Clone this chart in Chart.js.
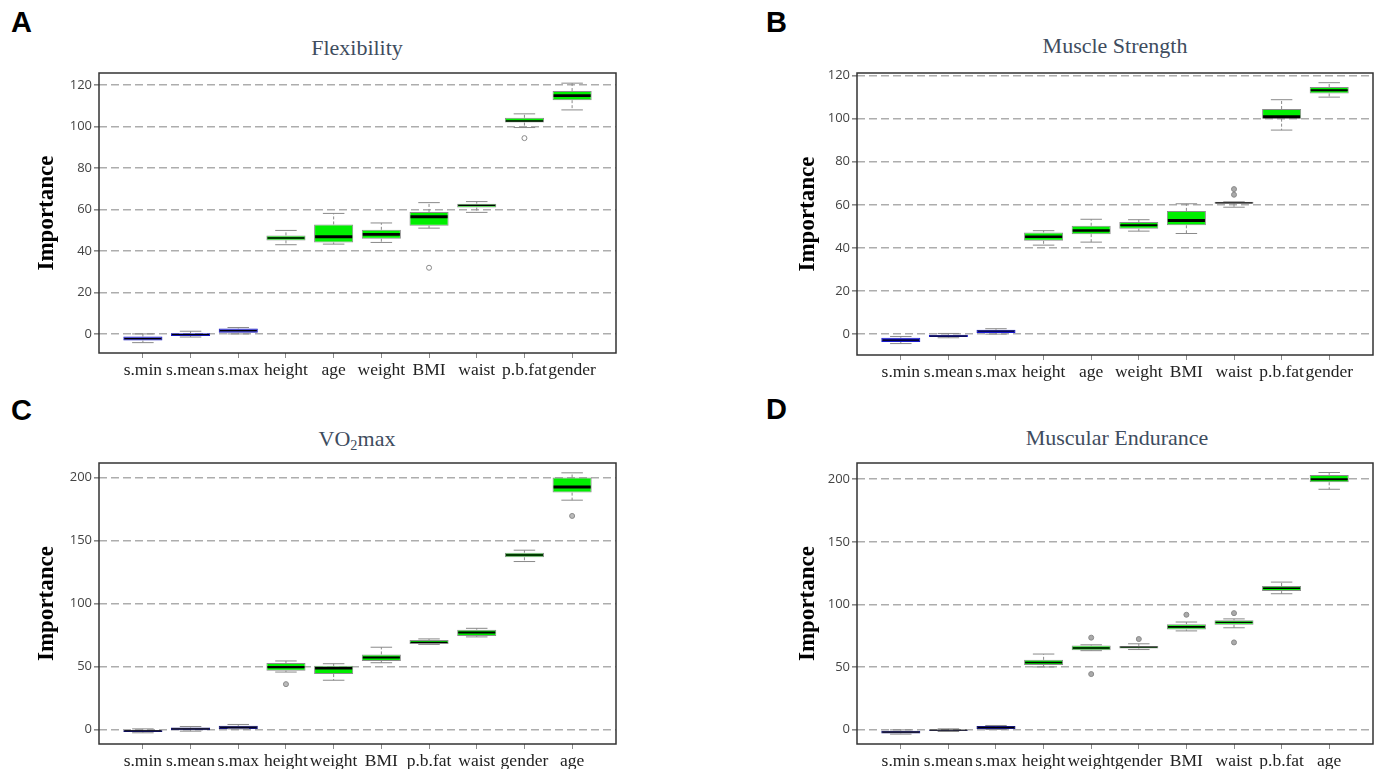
<!DOCTYPE html>
<html>
<head>
<meta charset="utf-8">
<script src="https://cdn.jsdelivr.net/npm/chart.js@4.4.1/dist/chart.umd.min.js"></script>
<style>
  body { margin: 0; background: #fff; width: 1384px; height: 769px; position: relative; overflow: hidden; }
  .panel { position: absolute; }
  .letter { position: absolute; font-family: "Liberation Sans", Arial, sans-serif; font-weight: bold; font-size: 29px; line-height: 1; color: #000; }
  .title { position: absolute; font-family: "Liberation Serif", serif; font-size: 22px; line-height: 1; color: #3e4c5e; transform: translateX(-50%); white-space: nowrap; }
  .title sub { font-size: 0.65em; vertical-align: -0.25em; }
</style>
</head>
<body>

<div class="letter" style="left:11px;top:8px">A</div>
<div class="letter" style="left:766px;top:8px">B</div>
<div class="letter" style="left:11px;top:396px">C</div>
<div class="letter" style="left:766px;top:395px">D</div>

<div class="title" style="left:357px;top:37px">Flexibility</div>
<div class="title" style="left:1115px;top:35px">Muscle Strength</div>
<div class="title" style="left:357px;top:428px">VO<sub>2</sub>max</div>
<div class="title" style="left:1117px;top:427px">Muscular Endurance</div>

<div class="panel" style="left:0px;top:60px"><canvas id="flex" width="625" height="330"></canvas></div>
<div class="panel" style="left:758px;top:60px"><canvas id="strength" width="624" height="332"></canvas></div>
<div class="panel" style="left:0px;top:450px"><canvas id="vo2" width="625" height="319"></canvas></div>
<div class="panel" style="left:758px;top:450px"><canvas id="endurance" width="624" height="319"></canvas></div>

<script>
// Flexibility
const flexLabels = ['s.min', 's.mean', 's.max', 'height', 'age', 'weight', 'BMI', 'waist', 'p.b.fat', 'gender'];
const flexMin = [-4.2, -1.5, 0.0, 43.0, 43.3, 44.1, 51.0, 58.6, 99.5, 108.0];
const flexQ1  = [-3.2, -1.0, 0.6, 45.1, 44.1, 45.9, 52.2, 60.9, 101.9, 112.7];
const flexMed = [-2.3, -0.3, 1.6, 46.2, 46.9, 48.0, 56.5, 62.0, 102.7, 114.9];
const flexQ3  = [-1.3, 0.3, 2.6, 47.5, 52.8, 50.2, 58.8, 62.8, 104.2, 117.1];
const flexMax = [0.0, 1.3, 3.1, 49.9, 58.1, 53.5, 63.3, 63.8, 106.1, 120.9];
const flexOut = [[7, 31.9], [9, 94.4]]; // [category number, value]
const flexTicks = [0, 20, 40, 60, 80, 100, 120];

// Muscle Strength
const strLabels = ['s.min', 's.mean', 's.max', 'height', 'age', 'weight', 'BMI', 'waist', 'p.b.fat', 'gender'];
const strMin = [-4.4, -1.7, 0.0, 41.3, 42.7, 47.8, 46.7, 58.9, 94.7, 110.0];
const strQ1  = [-3.7, -1.4, 0.5, 43.3, 46.4, 48.9, 50.5, 60.5, 100.0, 111.7];
const strMed = [-2.8, -0.9, 1.4, 45.2, 48.1, 50.5, 52.7, 60.9, 100.9, 113.2];
const strQ3  = [-1.7, -0.3, 2.0, 47.2, 50.3, 52.0, 57.2, 61.4, 104.5, 114.7];
const strMax = [-1.1, 0.3, 2.5, 48.0, 53.3, 53.1, 60.5, 61.4, 108.8, 116.7];
const strOut = [[8, 64.7], [8, 67.3]];
const strTicks = [0, 20, 40, 60, 80, 100, 120];

// VO2max
const vo2Labels = ['s.min', 's.mean', 's.max', 'height', 'weight', 'BMI', 'p.b.fat', 'waist', 'gender', 'age'];
const vo2Min = [-2.6, -1.3, 0.5, 45.6, 39.1, 53.0, 67.5, 73.5, 133.3, 182.0];
const vo2Q1  = [-2.0, -0.5, 0.5, 46.7, 44.0, 54.4, 67.8, 74.3, 136.7, 188.0];
const vo2Med = [-1.0, 0.5, 1.8, 49.5, 48.6, 57.1, 69.2, 77.0, 138.5, 192.5];
const vo2Q3  = [0.0, 1.6, 2.9, 52.7, 50.5, 59.6, 71.0, 79.2, 140.3, 200.0];
const vo2Max = [0.5, 2.4, 4.0, 54.4, 52.2, 65.3, 71.9, 80.3, 142.3, 203.7];
const vo2Out = [[4, 36.0], [10, 169.5]];
const vo2Ticks = [0, 50, 100, 150, 200];

// Muscular Endurance
const endLabels = ['s.min', 's.mean', 's.max', 'height', 'weight', 'gender', 'BMI', 'waist', 'p.b.fat', 'age'];
const endMin = [-3.7, -1.6, 0.0, 50.0, 63.0, 63.9, 78.8, 81.3, 108.5, 192.0];
const endQ1  = [-3.2, -1.3, 0.3, 51.6, 63.3, 64.7, 79.9, 83.7, 110.6, 197.6];
const endMed = [-2.1, -0.5, 1.6, 53.5, 65.2, 65.8, 82.0, 85.6, 112.9, 200.0];
const endQ3  = [-1.0, 0.0, 2.7, 55.7, 67.1, 66.8, 84.2, 87.3, 114.7, 203.5];
const endMax = [-0.3, 0.5, 3.2, 60.3, 67.7, 68.5, 85.9, 88.4, 117.8, 205.4];
const endOut = [[5, 73.4], [5, 44.3], [6, 72.3], [7, 91.7], [8, 93.0], [8, 69.6]];
const endTicks = [0, 50, 100, 150, 200];

// draws whiskers, caps, medians, outliers and the frame, using the chart's scales
const boxPlugin = {
  id: 'boxExtras',
  afterDatasetsDraw(chart) {
    const b = chart.options.plugins.boxExtras;
    const x = chart.scales.x, y = chart.scales.y;
    const bars = chart.getDatasetMeta(0).data;
    const ctx = chart.ctx;
    ctx.save();
    b.q1.forEach((v, i) => {
      const cx = x.getPixelForValue(i + 1);
      const hw = bars[i].width / 2;
      const cap = hw * 0.55;
      // whiskers
      ctx.strokeStyle = '#8a8a8a';
      ctx.lineWidth = 1;
      ctx.setLineDash([3, 2]);
      ctx.beginPath();
      ctx.moveTo(cx, y.getPixelForValue(b.q3[i]));
      ctx.lineTo(cx, y.getPixelForValue(b.hi[i]));
      ctx.moveTo(cx, y.getPixelForValue(b.q1[i]));
      ctx.lineTo(cx, y.getPixelForValue(b.lo[i]));
      ctx.stroke();
      ctx.setLineDash([]);
      ctx.beginPath();
      ctx.moveTo(cx - cap, y.getPixelForValue(b.hi[i]));
      ctx.lineTo(cx + cap, y.getPixelForValue(b.hi[i]));
      ctx.moveTo(cx - cap, y.getPixelForValue(b.lo[i]));
      ctx.lineTo(cx + cap, y.getPixelForValue(b.lo[i]));
      ctx.stroke();
      // median, thinner on very short boxes so the fill stays visible
      const boxH = Math.abs(y.getPixelForValue(b.q1[i]) - y.getPixelForValue(b.q3[i]));
      ctx.strokeStyle = '#000';
      ctx.lineWidth = Math.max(1, Math.min(3, boxH * 0.3));
      ctx.beginPath();
      ctx.moveTo(cx - hw + 1, y.getPixelForValue(b.med[i]));
      ctx.lineTo(cx + hw - 1, y.getPixelForValue(b.med[i]));
      ctx.stroke();
    });
    // outliers
    ctx.lineWidth = 1;
    ctx.strokeStyle = '#8a8a8a';
    ctx.fillStyle = b.outFill;
    b.out.forEach(([k, v]) => {
      ctx.beginPath();
      ctx.arc(x.getPixelForValue(k), y.getPixelForValue(v), 2.5, 0, Math.PI * 2);
      ctx.fill();
      ctx.stroke();
    });
    ctx.restore();
  },
  afterDraw(chart) {
    const a = chart.chartArea;
    const ctx = chart.ctx;
    ctx.save();
    ctx.strokeStyle = '#333';
    ctx.lineWidth = 1.5;
    ctx.strokeRect(a.left, a.top, a.right - a.left, a.bottom - a.top);
    ctx.restore();
  }
};

function boxChart(id, labels, lo, q1, med, q3, hi, out, ticks, yMin, yMax, blue, outFill, xHeight, titlePad) {
  const ctx = document.getElementById(id).getContext('2d');
  const isShadow = labels.map(l => l.startsWith('s.'));
  return new Chart(ctx, {
    type: 'bar',
    data: {
      datasets: [{
        data: q1.map((v, i) => ({ x: i + 1, y: [v, q3[i]] })),
        backgroundColor: isShadow.map(s => s ? blue : '#00ee00'),
        borderColor: isShadow.map(s => s ? blue : '#8c8c8c'),
        borderWidth: 1,
        borderSkipped: false,
        barPercentage: 0.82,
        categoryPercentage: 1
      }]
    },
    options: {
      responsive: false,
      animation: false,
      layout: { padding: { top: 13, right: 9, left: 0, bottom: 0 } },
      plugins: {
        legend: { display: false },
        tooltip: { enabled: false },
        boxExtras: { lo, q1, med, q3, hi, out, outFill }
      },
      scales: {
        x: {
          type: 'linear',
          offset: false,
          min: 0.08,
          max: 10.92,
          afterBuildTicks: s => { s.ticks = labels.map((l, i) => ({ value: i + 1 })); },
          afterFit: s => { s.height = xHeight; },
          ticks: {
            autoSkip: false,
            maxRotation: 0,
            minRotation: 0,
            padding: 2,
            color: '#222',
            font: { family: 'Liberation Serif', size: 17.5 },
            callback: v => labels[v - 1]
          },
          grid: { offset: false, drawOnChartArea: false, drawTicks: true, tickLength: 5, tickColor: '#8a8a8a' },
          border: { display: false }
        },
        y: {
          min: yMin,
          max: yMax,
          afterBuildTicks: s => { s.ticks = ticks.map(v => ({ value: v })); },
          afterFit: s => { s.width = 99; },
          ticks: {
            padding: 2,
            color: '#444',
            font: { family: 'Open Sans', size: 13 }
          },
          grid: {
            color: '#adadad',
            lineWidth: 1.6,
            drawTicks: true,
            tickLength: 5,
            tickColor: '#8a8a8a'
          },
          border: { display: false, dash: [8, 4] },
          title: {
            display: true,
            text: 'Importance',
            color: '#000',
            font: { family: 'Liberation Serif', size: 23, weight: 'bold' },
            padding: { top: titlePad, bottom: 0 }
          }
        }
      }
    },
    plugins: [boxPlugin]
  });
}

boxChart('flex', flexLabels, flexMin, flexQ1, flexMed, flexQ3, flexMax, flexOut, flexTicks, -9.2, 125.8, '#1818c0', '#fff', 37, 33);
boxChart('strength', strLabels, strMin, strQ1, strMed, strQ3, strMax, strOut, strTicks, -9.7, 121.2, '#1818d0', '#aaa', 37, 36);
boxChart('vo2', vo2Labels, vo2Min, vo2Q1, vo2Med, vo2Q3, vo2Max, vo2Out, vo2Ticks, -11.5, 211.5, '#15157a', '#bbb', 25, 33);
boxChart('endurance', endLabels, endMin, endQ1, endMed, endQ3, endMax, endOut, endTicks, -11.6, 213, '#15157a', '#aaa', 25, 36);
</script>
</body>
</html>
